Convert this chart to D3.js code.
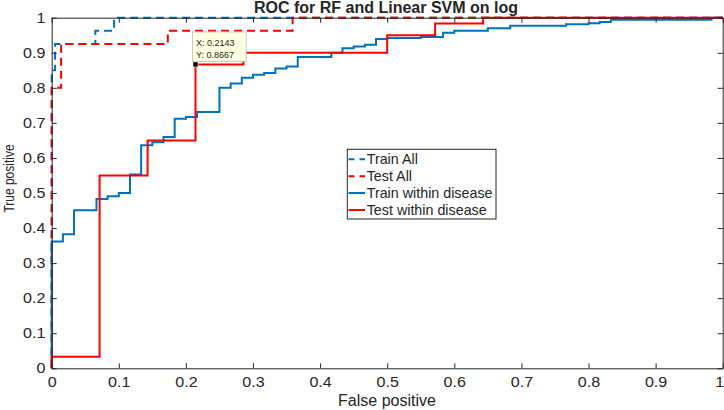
<!DOCTYPE html>
<html><head><meta charset="utf-8">
<script src="https://cdn.jsdelivr.net/npm/d3@7"></script>
<style>
body{margin:0;background:#fff}
svg text{font-family:"Liberation Sans",Arial,Helvetica,sans-serif;fill:#262626}
</style>
</head><body>
<svg id="chart" width="724" height="410"></svg>
<script>
// ---- data (ROC vertices; each point = position after the step) ----
const trainAllFpr = [0, 0, 0.005, 0.065, 0.093, 1];
const trainAllTpr = [0, 0.85, 0.925, 0.963, 1, 1];
const testAllFpr  = [0, 0, 0.014, 0.173, 0.359, 1];
const testAllTpr  = [0, 0.8, 0.925, 0.963, 1, 1];
const trainWithinFpr = [0, 0, 0.0167, 0.0333, 0.0667, 0.0833, 0.1, 0.1167, 0.1333, 0.15, 0.1667, 0.1833, 0.2, 0.2167, 0.25, 0.2667, 0.2833, 0.3, 0.3167, 0.3333, 0.35, 0.3667, 0.4167, 0.4333, 0.45, 0.4667, 0.4833, 0.5, 0.55, 0.5833, 0.6, 0.65, 0.6833, 0.7667, 0.8, 0.8167, 0.8333, 0.9833, 1];
const trainWithinTpr = [0, 0.362, 0.382, 0.451, 0.483, 0.491, 0.5, 0.553, 0.636, 0.645, 0.66, 0.712, 0.717, 0.731, 0.8, 0.812, 0.829, 0.837, 0.842, 0.855, 0.861, 0.888, 0.9, 0.913, 0.918, 0.923, 0.939, 0.942, 0.945, 0.957, 0.963, 0.97, 0.977, 0.981, 0.984, 0.988, 0.994, 1, 1];
const testWithinFpr = [0, 0, 0.0714, 0.1429, 0.2143, 0.2857, 0.5, 0.5714, 0.6429, 1];
const testWithinTpr = [0, 0.0333, 0.55, 0.65, 0.8667, 0.9, 0.95, 0.9833, 1, 1];
const seriesNames = ["Train All", "Test All", "Train within disease", "Test within disease"];
const tickValues = [0, 0.1, 0.2, 0.3, 0.4, 0.5, 0.6, 0.7, 0.8, 0.9, 1];
const tickLabels = ["0", "0.1", "0.2", "0.3", "0.4", "0.5", "0.6", "0.7", "0.8", "0.9", "1"];
const datatip = {x: 0.2143, y: 0.8667};
const titleText = "ROC for RF and Linear SVM on log";
const xLabel = "False positive";
const yLabel = "True positive";

// ---- layout ----
const svg = d3.select("#chart");
const x = d3.scaleLinear().domain([0, 1]).range([51.7, 722.7]);
const y = d3.scaleLinear().domain([0, 1]).range([368.3, 17.7]);
const axisColor = "#262626";
const blue = "#0072BD", red = "#FF0000";

const fmt = d => tickLabels[tickValues.indexOf(d)];

// series
const series = [
  {fpr: trainAllFpr, tpr: trainAllTpr, color: blue, dash: "8,5"},
  {fpr: testAllFpr, tpr: testAllTpr, color: red, dash: "8,5"},
  {fpr: trainWithinFpr, tpr: trainWithinTpr, color: blue, dash: null},
  {fpr: testWithinFpr, tpr: testWithinTpr, color: red, dash: null}
];
const line = d3.line().x(d => x(d[0])).y(d => y(d[1])).curve(d3.curveStepAfter);

const plot = svg.append("g");
series.forEach(s => {
  plot.append("path")
    .datum(s.fpr.map((f, i) => [f, s.tpr[i]]))
    .attr("d", line)
    .attr("fill", "none")
    .attr("stroke", s.color)
    .attr("stroke-width", 2)
    .attr("stroke-dasharray", s.dash);
});

// axes
const sx = 1.15;
const gx = svg.append("g").attr("transform", `translate(0,${y(0)})`)
  .call(d3.axisBottom(x).tickValues(tickValues).tickFormat(fmt).tickSizeInner(-5).tickSizeOuter(0).tickPadding(8.5));
const gy = svg.append("g").attr("transform", `translate(${x(0)},0)`)
  .call(d3.axisLeft(y).tickValues(tickValues).tickFormat(fmt).tickSizeInner(-5).tickSizeOuter(0).tickPadding(6.3 / sx));
const gt = svg.append("g").attr("transform", `translate(0,${y(1)})`)
  .call(d3.axisTop(x).tickValues(tickValues).tickFormat("").tickSizeInner(-5).tickSizeOuter(0));
const gr = svg.append("g").attr("transform", `translate(${x(1)},0)`)
  .call(d3.axisRight(y).tickValues(tickValues).tickFormat("").tickSizeInner(-5).tickSizeOuter(0));
[gx, gy, gt, gr].forEach(g => {
  g.selectAll("path.domain").attr("stroke", axisColor).attr("stroke-width", 1);
  g.selectAll(".tick line").attr("stroke", axisColor).attr("stroke-width", 1);
  g.selectAll(".tick text").attr("fill", axisColor).attr("font-size", 14)
    .attr("font-family", "Liberation Sans, Arial, sans-serif")
    .attr("transform", `scale(${sx},1)`);
});
// keep the last x tick label inside the page edge
gx.selectAll(".tick text").filter(d => d === 1)
  .attr("text-anchor", "end").attr("x", (723.5 - x(1)) / sx + 0.1);

// title & labels
svg.append("text").attr("x", 386).attr("y", 13.3).attr("text-anchor", "middle")
  .attr("font-size", 16).attr("font-weight", "bold").attr("fill", "#000").text(titleText);
svg.append("text").attr("x", 387).attr("y", 405.5).attr("text-anchor", "middle")
  .attr("font-size", 16).text(xLabel);
svg.append("text").attr("text-anchor", "middle").attr("font-size", 15)
  .attr("transform", "translate(13.5,178.5) rotate(-90) scale(0.8,1)").text(yLabel);

// legend
const lg = svg.append("g");
lg.append("rect").attr("x", 347.3).attr("y", 149.3).attr("width", 148.7).attr("height", 69.7)
  .attr("fill", "#fff").attr("stroke", axisColor).attr("stroke-width", 1);
const rowY = [159.3, 176.3, 193, 210];
series.forEach((s, i) => {
  lg.append("line").attr("x1", 348.5).attr("x2", 365).attr("y1", rowY[i]).attr("y2", rowY[i])
    .attr("stroke", s.color).attr("stroke-width", 2).attr("stroke-dasharray", s.dash ? "6,5" : null);
  lg.append("text").attr("x", 366.7).attr("y", rowY[i] + 5).attr("font-size", 14.3)
    .attr("fill", "#000").text(seriesNames[i]);
});

// datatip
const mx = x(datatip.x), my = y(datatip.y);
const tip = svg.append("g");
tip.append("rect").attr("x", mx - 3).attr("y", my - 32.5).attr("width", 53.7).attr("height", 29.5)
  .attr("fill", "#ffffe1").attr("stroke", "#bdbdbd").attr("stroke-width", 0.8);
tip.append("text").attr("x", mx + 0.5).attr("y", my - 18.2).attr("font-size", 9).attr("fill", "#000")
  .text("X: " + datatip.x.toFixed(4));
tip.append("text").attr("x", mx + 0.5).attr("y", my - 6.6).attr("font-size", 9).attr("fill", "#000")
  .text("Y: " + datatip.y.toFixed(4));
tip.append("rect").attr("x", mx - 2.5).attr("y", my - 2.5).attr("width", 5).attr("height", 5)
  .attr("fill", "#000").attr("stroke", "#fff").attr("stroke-width", 0.5);
</script>
</body></html>
